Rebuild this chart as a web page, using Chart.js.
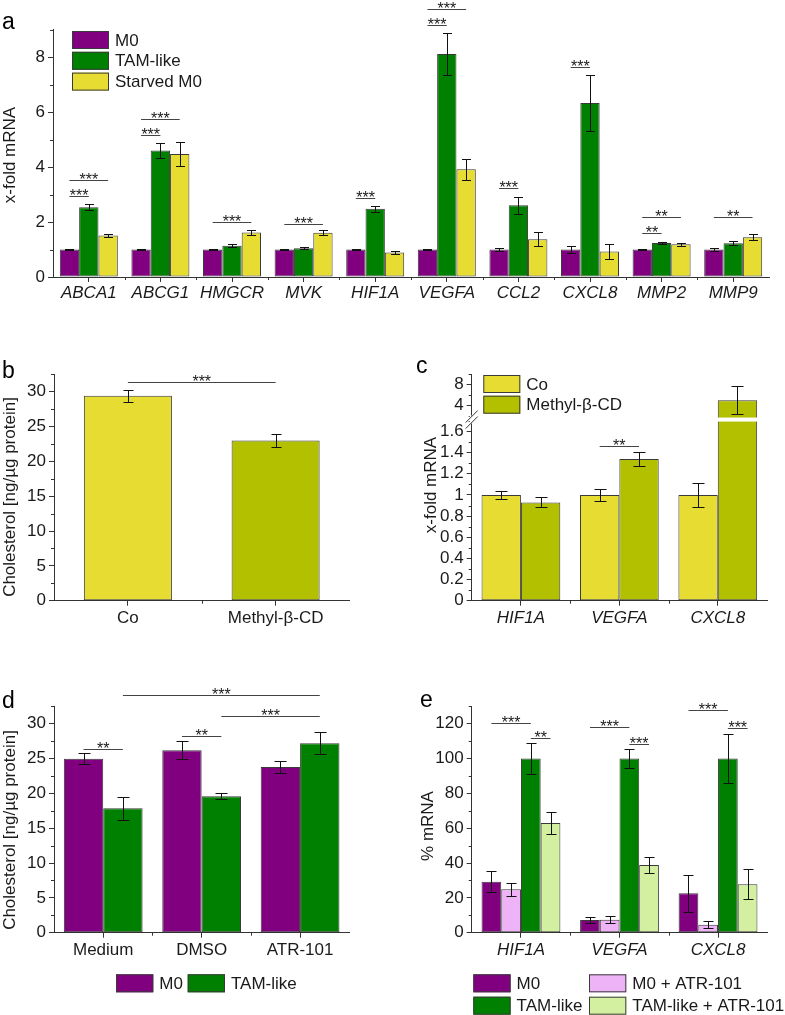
<!DOCTYPE html>
<html>
<head>
<meta charset="utf-8">
<script src="https://cdn.jsdelivr.net/npm/chart.js@4.4.1/dist/chart.umd.min.js"></script>
<style>
  body { margin: 0; background: #fff; width: 785px; height: 1015px; position: relative; overflow: hidden; }
  canvas { position: absolute; }
</style>
</head>
<body>
<canvas id="chartA" width="785" height="310" style="left:0;top:0"></canvas>
<canvas id="chartB" width="390" height="320" style="left:0;top:310px"></canvas>
<canvas id="chartC" width="395" height="320" style="left:390px;top:310px"></canvas>
<canvas id="chartD" width="390" height="385" style="left:0;top:630px"></canvas>
<canvas id="chartE" width="395" height="385" style="left:390px;top:630px"></canvas>
<script>
// --- DATOS ---
// panel a
const genesA = ['ABCA1', 'ABCG1', 'HMGCR', 'MVK', 'HIF1A', 'VEGFA', 'CCL2', 'CXCL8', 'MMP2', 'MMP9'];
const m0A = [1, 1, 1, 1, 1, 1, 1, 1, 1, 1];
const m0ErrA = [0.03, 0.03, 0.02, 0.02, 0.03, 0.02, 0.05, 0.14, 0.02, 0.04];
const tamA = [2.54, 4.6, 1.14, 1.05, 2.48, 8.11, 2.61, 6.33, 1.24, 1.23];
const tamErrA = [0.1, 0.28, 0.05, 0.03, 0.1, 0.78, 0.31, 1.02, 0.04, 0.07];
const starvedA = [1.51, 4.47, 1.62, 1.61, 0.89, 3.92, 1.37, 0.93, 1.19, 1.45];
const starvedErrA = [0.05, 0.44, 0.09, 0.09, 0.05, 0.38, 0.26, 0.26, 0.05, 0.1];
const ticksA = [0, 2, 4, 6, 8];
const minorA = [1, 3, 5, 7, 9];
// [categoria desde, serie desde, categoria hasta, serie hasta, altura, texto]
const sigA = [
  [0, 0, 0, 1, 2.95, '***'], [0, 0, 0, 2, 3.52, '***'],
  [1, 0, 1, 1, 5.16, '***'], [1, 0, 1, 2, 5.75, '***'],
  [2, 0, 2, 2, 2.0, '***'], [3, 0, 3, 2, 1.92, '***'],
  [4, 0, 4, 1, 2.88, '***'],
  [5, 0, 5, 1, 9.16, '***'], [5, 0, 5, 2, 9.73, '***'],
  [6, 0, 6, 1, 3.22, '***'], [7, 0, 7, 1, 7.65, '***'],
  [8, 0, 8, 1, 1.6, '**'], [8, 0, 8, 2, 2.17, '**'], [9, 0, 9, 2, 2.17, '**']
];

// panel b
const groupsB = ['Co', 'Methyl-β-CD'];
const cholB = [29.4, 23.0];
const cholErrB = [0.9, 0.95];
const ticksB = [0, 5, 10, 15, 20, 25, 30];
const minorB = [2.5, 7.5, 12.5, 17.5, 22.5, 27.5, 32.5];
const sigB = [[0, 0, 1, 0, 31.4, '***']];

// panel c (eje cortado)
const genesC = ['HIF1A', 'VEGFA', 'CXCL8'];
const coC = [1.0, 1.0, 1.0];
const coErrC = [0.04, 0.055, 0.113];
const mbcdC = [0.929, 1.341, 5.0];
const mbcdErrC = [0.047, 0.068, 2.69];
const ticksC = [0, 0.2, 0.4, 0.6, 0.8, 1, 1.2, 1.4, 1.6, 4, 8];
const minorC = [0.1, 0.3, 0.5, 0.7, 0.9, 1.1, 1.3, 1.5, 1.7, 2, 6, 10];
const sigC = [[1, 0, 1, 1, 1.461, '**']];

// panel d
const treatD = ['Medium', 'DMSO', 'ATR-101'];
const m0D = [24.96, 26.17, 23.77];
const m0ErrD = [0.82, 1.29, 0.86];
const tamD = [17.85, 19.57, 27.17];
const tamErrD = [1.65, 0.45, 1.58];
const ticksD = [0, 5, 10, 15, 20, 25, 30];
const minorD = [2.5, 7.5, 12.5, 17.5, 22.5, 27.5, 32.5];
const sigD = [
  [0, 0, 0, 1, 26.4, '**'], [1, 0, 1, 1, 28.2, '**'],
  [1, 1, 2, 1, 31.1, '***'], [0, 1, 2, 1, 34.1, '***']
];

// panel e
const genesE = ['HIF1A', 'VEGFA', 'CXCL8'];
const m0E = [29.3, 7.3, 22.6];
const m0ErrE = [6.2, 1.9, 10.5];
const m0AtrE = [24.9, 7.5, 4.6];
const m0AtrErrE = [3.6, 1.8, 1.9];
const tamE = [100, 100, 100];
const tamErrE = [9.1, 5.5, 13.8];
const tamAtrE = [63.0, 38.9, 27.8];
const tamAtrErrE = [6.1, 4.8, 8.6];
const ticksE = [0, 20, 40, 60, 80, 100, 120];
const minorE = [10, 30, 50, 70, 90, 110, 130];
const sigE = [
  [0, 0, 0, 2, 120.4, '***'], [0, 2, 0, 3, 112, '**'],
  [1, 0, 1, 2, 117.9, '***'], [1, 2, 1, 3, 108.5, '***'],
  [2, 0, 2, 2, 127.7, '***'], [2, 2, 2, 3, 117.7, '***']
];

// --- ESTILO ---
const PURPLE = '#800080', GREEN = '#008000', YELLOW = '#E6DC32', OLIVE = '#B2C000';
const PINK = '#EEB2F6', LIGHTGREEN = '#D2F0A0';
const AXIS = '#333333', EDGE = '#3a3a3a', TEXT = '#1a1a1a';
const FONT = '"Liberation Sans", Arial, sans-serif';

// eje cortado del panel c: 0-1.7 lineal, 2-10 comprimido
function breakC(v) {
  return v <= 1.72 ? v : 1.746 + (v - 2) * 0.0496;
}
const ident = v => v;

// --- PLUGIN: barras de error, significancia, leyenda, títulos ---
const extras = {
  id: 'extras',
  afterDraw(chart, args, o) {
    const ctx = chart.ctx, ys = chart.scales.y, xs = chart.scales.x, area = chart.chartArea;
    const map = o.map || ident;
    ctx.save();
    ctx.lineWidth = 1;
    ctx.strokeStyle = AXIS;

    // ticks menores eje y
    (o.minor || []).forEach(v => {
      const py = Math.round(ys.getPixelForValue(map(v))) + 0.5;
      ctx.beginPath(); ctx.moveTo(area.left - 3, py); ctx.lineTo(area.left, py); ctx.stroke();
    });
    // ticks menores eje x (entre grupos)
    const n = chart.data.labels.length;
    for (let i = 1; i < n; i++) {
      const px = Math.round((xs.getPixelForValue(i - 1) + xs.getPixelForValue(i)) / 2) + 0.5;
      ctx.beginPath(); ctx.moveTo(px, area.bottom); ctx.lineTo(px, area.bottom + 3); ctx.stroke();
    }

    // banda blanca del corte (panel c)
    if (o.band) {
      const yTop = ys.getPixelForValue(o.band[1]), yBot = ys.getPixelForValue(o.band[0]);
      chart.data.datasets.forEach((ds, di) => {
        chart.getDatasetMeta(di).data.forEach((bar, i) => {
          if (ds.data[i] > o.band[1]) {
            ctx.fillStyle = '#fff';
            ctx.fillRect(bar.x - bar.width / 2 - 1, yTop, bar.width + 2, yBot - yTop);
          }
        });
      });
      // marcas // en el eje
      const yb = (yTop + yBot) / 2;
      ctx.fillStyle = '#fff';
      ctx.fillRect(area.left - 2, yb - 4, 4, 8);
      ctx.strokeStyle = AXIS;
      [-3, 3].forEach(dy => {
        ctx.beginPath();
        ctx.moveTo(area.left - 6, yb + dy + 6);
        ctx.lineTo(area.left + 6, yb + dy - 6);
        ctx.stroke();
      });
    }

    // barras de error
    ctx.strokeStyle = '#111';
    o.errs.forEach((errs, di) => {
      const meta = chart.getDatasetMeta(di);
      meta.data.forEach((bar, i) => {
        const v = o.raw[di][i], e = errs[i];
        const x = Math.round(bar.x) + 0.5;
        const y1 = Math.round(ys.getPixelForValue(map(v + e))) + 0.5;
        const y2 = Math.round(ys.getPixelForValue(map(v - e))) + 0.5;
        const cap = o.cap || 5;
        ctx.beginPath();
        ctx.moveTo(x, y1); ctx.lineTo(x, y2);
        ctx.moveTo(x - cap, y1); ctx.lineTo(x + cap, y1);
        ctx.moveTo(x - cap, y2); ctx.lineTo(x + cap, y2);
        ctx.stroke();
      });
    });

    // significancia
    ctx.strokeStyle = '#444';
    ctx.fillStyle = TEXT;
    ctx.font = '16px ' + FONT;
    ctx.textAlign = 'center';
    ctx.textBaseline = 'alphabetic';
    (o.sig || []).forEach(s => {
      const xa = chart.getDatasetMeta(s[1]).data[s[0]].x;
      const xb = chart.getDatasetMeta(s[3]).data[s[2]].x;
      const y = Math.round(ys.getPixelForValue(map(s[4]))) + 0.5;
      ctx.beginPath(); ctx.moveTo(xa, y); ctx.lineTo(xb, y); ctx.stroke();
      ctx.fillText(s[5], (xa + xb) / 2, y + 4);
    });

    // leyenda
    if (o.legend) {
      const L = o.legend;
      ctx.font = '17px ' + FONT;
      ctx.textAlign = 'left';
      ctx.textBaseline = 'middle';
      L.items.forEach((it, k) => {
        const col = k % L.cols, row = Math.floor(k / L.cols);
        const bx = L.x + col * L.colW, by = L.y + row * L.rowH;
        ctx.fillStyle = it[1];
        ctx.fillRect(bx, by, L.boxW, L.boxH);
        ctx.strokeStyle = EDGE;
        ctx.strokeRect(bx + 0.5, by + 0.5, L.boxW - 1, L.boxH - 1);
        ctx.fillStyle = TEXT;
        ctx.fillText(it[0], bx + L.boxW + L.gap, by + L.boxH / 2 + 1);
      });
    }

    // letra del panel
    ctx.fillStyle = '#000';
    ctx.font = '23px ' + FONT;
    ctx.textAlign = 'left';
    ctx.textBaseline = 'alphabetic';
    ctx.fillText(o.letter[0], o.letter[1], o.letter[2]);

    // título eje y
    ctx.font = '17px ' + FONT;
    ctx.fillStyle = TEXT;
    ctx.textAlign = 'center';
    ctx.textBaseline = 'middle';
    ctx.translate(o.yTitle[1], o.yTitle[2]);
    ctx.rotate(-Math.PI / 2);
    ctx.fillText(o.yTitle[0], 0, 0);
    ctx.restore();
  }
};

function makeChart(id, cfg) {
  const italic = cfg.italic ? 'italic' : 'normal';
  return new Chart(document.getElementById(id), {
    type: 'bar',
    data: { labels: cfg.labels, datasets: cfg.datasets.map(d => ({
      data: d.data, backgroundColor: d.color, borderColor: EDGE, borderWidth: 1,
      borderSkipped: false, categoryPercentage: cfg.catPct, barPercentage: 1
    })) },
    options: {
      responsive: false,
      animation: false,
      events: [],
      layout: { padding: { left: 0, top: cfg.area.top, right: cfg.width - cfg.area.right, bottom: 0 } },
      plugins: {
        legend: { display: false },
        tooltip: { enabled: false },
        extras: cfg.extras
      },
      scales: {
        x: {
          grid: { display: true, drawOnChartArea: false, offset: false, tickLength: 5, color: AXIS },
          border: { display: true, color: AXIS, width: 1 },
          ticks: { autoSkip: false, maxRotation: 0, padding: cfg.xPad, color: TEXT,
                   font: { family: FONT, size: 17, style: italic } },
          afterFit: s => { s.height = cfg.height - cfg.area.bottom; }
        },
        y: {
          min: 0, max: cfg.yMax,
          grid: { display: true, drawOnChartArea: false, tickLength: 5, color: AXIS },
          border: { display: true, color: AXIS, width: 1 },
          ticks: { autoSkip: false, padding: 3, color: TEXT, font: { family: FONT, size: 17 },
                   callback: cfg.tickLabel || (v => String(v)) },
          afterBuildTicks: s => { s.ticks = cfg.ticks.map(v => ({ value: v })); },
          afterFit: s => { s.width = cfg.area.left; }
        }
      }
    },
    plugins: [extras]
  });
}

// panel a
makeChart('chartA', {
  width: 785, height: 310, area: { left: 53, right: 769, top: 29.5, bottom: 277 },
  labels: genesA, italic: true, catPct: 0.81, yMax: 9, ticks: ticksA, xPad: 1,
  datasets: [{ data: m0A, color: PURPLE }, { data: tamA, color: GREEN }, { data: starvedA, color: YELLOW }],
  extras: {
    raw: [m0A, tamA, starvedA], errs: [m0ErrA, tamErrA, starvedErrA], cap: 4.5,
    minor: minorA, sig: sigA,
    legend: { x: 72, y: 31, cols: 1, colW: 0, rowH: 20.8, boxW: 37, boxH: 18, gap: 6,
              items: [['M0', PURPLE], ['TAM-like', GREEN], ['Starved M0', YELLOW]] },
    letter: ['a', 2, 29], yTitle: ['x-fold mRNA', 10, 155]
  }
});

// panel b
makeChart('chartB', {
  width: 390, height: 320, area: { left: 54, right: 349.5, top: 64.2, bottom: 290.7 },
  labels: groupsB, italic: false, catPct: 0.596, yMax: 32.5, ticks: ticksB, xPad: 2,
  datasets: [{ data: cholB, color: [YELLOW, OLIVE] }],
  extras: {
    raw: [cholB], errs: [cholErrB], cap: 5, minor: minorB, sig: sigB,
    letter: ['b', 2, 68], yTitle: ['Cholesterol [ng/µg protein]', 10, 187]
  }
});

// panel c
makeChart('chartC', {
  width: 395, height: 320, area: { left: 81.7, right: 377, top: 64.1, bottom: 290.7 },
  labels: genesC, italic: true, catPct: 0.8, yMax: breakC(10), ticks: ticksC.map(breakC), xPad: 2,
  tickLabel: (v, i) => String(ticksC[i]),
  datasets: [{ data: coC.map(breakC), color: YELLOW }, { data: mbcdC.map(breakC), color: OLIVE }],
  extras: {
    raw: [coC, mbcdC], errs: [coErrC, mbcdErrC], cap: 6, map: breakC,
    minor: minorC, sig: sigC, band: [1.694, 1.732],
    legend: { x: 93.3, y: 65, cols: 1, colW: 0, rowH: 20.7, boxW: 37, boxH: 18, gap: 6,
              items: [['Co', YELLOW], ['Methyl-β-CD', OLIVE]] },
    letter: ['c', 26, 63], yTitle: ['x-fold mRNA', 41, 175]
  }
});

// panel d
makeChart('chartD', {
  width: 390, height: 385, area: { left: 54, right: 349.3, top: 76.2, bottom: 302.7 },
  labels: treatD, italic: false, catPct: 0.8, yMax: 32.5, ticks: ticksD, xPad: 2,
  datasets: [{ data: m0D, color: PURPLE }, { data: tamD, color: GREEN }],
  extras: {
    raw: [m0D, tamD], errs: [m0ErrD, tamErrD], cap: 6, minor: minorD, sig: sigD,
    legend: { x: 116, y: 344.3, cols: 2, colW: 71.7, rowH: 0, boxW: 37.3, boxH: 18, gap: 6,
              items: [['M0', PURPLE], ['TAM-like', GREEN]] },
    letter: ['d', 2, 78], yTitle: ['Cholesterol [ng/µg protein]', 10, 200]
  }
});

// panel e
makeChart('chartE', {
  width: 395, height: 385, area: { left: 81.7, right: 377.3, top: 76.2, bottom: 302.7 },
  labels: genesE, italic: true, catPct: 0.8, yMax: 130, ticks: ticksE, xPad: 2,
  datasets: [{ data: m0E, color: PURPLE }, { data: m0AtrE, color: PINK },
             { data: tamE, color: GREEN }, { data: tamAtrE, color: LIGHTGREEN }],
  extras: {
    raw: [m0E, m0AtrE, tamE, tamAtrE], errs: [m0ErrE, m0AtrErrE, tamErrE, tamAtrErrE], cap: 5,
    minor: minorE, sig: sigE,
    legend: { x: 83.3, y: 344.3, cols: 2, colW: 115.7, rowH: 22.4, boxW: 37.3, boxH: 18, gap: 6,
              items: [['M0', PURPLE], ['M0 + ATR-101', PINK], ['TAM-like', GREEN], ['TAM-like + ATR-101', LIGHTGREEN]] },
    letter: ['e', 30, 77], yTitle: ['% mRNA', 38, 196]
  }
});
</script>
</body>
</html>
